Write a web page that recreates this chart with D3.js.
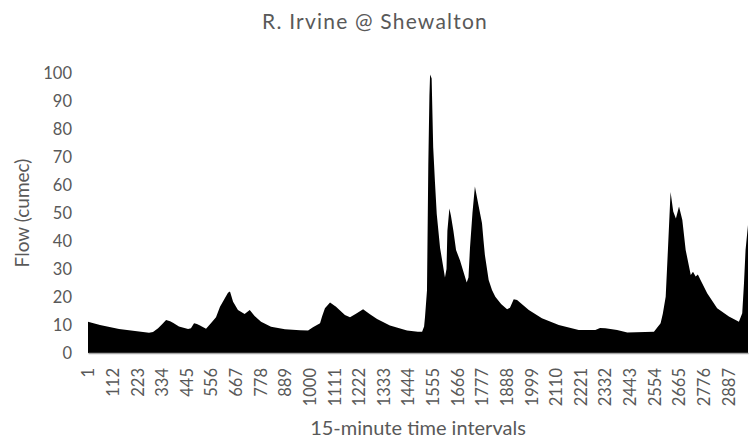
<!DOCTYPE html>
<html>
<head>
<meta charset="utf-8">
<script src="https://cdn.jsdelivr.net/npm/d3@7/dist/d3.min.js"></script>
<style>
  html, body { margin: 0; padding: 0; background: #fff; }
  svg { display: block; }
  text { font-family: Lato, "Open Sans", sans-serif; fill: #595959; }
</style>
</head>
<body>
<svg id="chart" width="749" height="443"></svg>
<script>
// River Irvine flow at Shewalton, one month of 15-minute readings (2976 intervals)
const intervalCount = 2976;

// interval number of each reading
const intervals = [
  1, 55, 141, 213, 276, 294, 317, 335, 353, 371, 384, 411, 452, 465, 479, 492, 506, 533,
  555, 578, 596, 614, 632, 641, 655, 677, 707, 730, 752, 781, 826, 889, 957, 993,
  1015, 1047, 1056, 1069, 1092, 1119, 1159, 1182, 1209, 1241, 1272, 1304, 1362, 1439,
  1488, 1507, 1516, 1520, 1529, 1535, 1540, 1543, 1550, 1557, 1565, 1573, 1588, 1595, 1610, 1617,
  1621, 1630, 1637, 1648, 1660, 1678, 1708, 1716, 1723, 1734, 1745, 1760, 1777, 1784, 1790, 1807,
  1822, 1837, 1863, 1890, 1903, 1920, 1935, 1988, 2047, 2123, 2213, 2288, 2309, 2333, 2386,
  2432, 2552, 2582, 2592, 2605, 2615, 2627, 2639, 2651, 2665, 2680, 2695, 2718, 2728,
  2740, 2750, 2762, 2792, 2837, 2890, 2935, 2950, 2958, 2965, 2976
];

// flow in cumec at each of those intervals
const flow = [
  11.2, 10.0, 8.6, 7.9, 7.2, 7.5, 8.8, 10.3, 11.8, 11.3, 10.8, 9.5, 8.6, 8.8, 10.6, 10.4, 9.8, 8.7,
  10.6, 12.8, 16.5, 19.0, 21.5, 22.0, 18.3, 15.4, 13.9, 15.4, 13.2, 11.2, 9.4, 8.5, 8.1, 8.0,
  9.2, 10.6, 13.0, 16.0, 18.0, 16.5, 13.6, 12.8, 14.0, 15.6, 13.8, 12.1, 9.8, 8.0,
  7.6, 7.6, 9.5, 12.8, 22.3, 67.5, 92.0, 99.5, 98.0, 73.5, 61.0, 49.6, 37.5, 34.2, 27.0, 30.0,
  43.7, 51.6, 49.0, 43.7, 36.8, 33.0, 25.2, 27.0, 37.8, 50.0, 59.5, 53.2, 46.3, 40.0, 35.0, 26.1,
  22.5, 20.1, 17.5, 15.6, 16.2, 19.2, 18.9, 15.4, 12.4, 10.0, 8.2, 8.2, 8.9, 8.8, 8.2,
  7.3, 7.6, 10.6, 14.0, 20.1, 36.8, 57.5, 50.5, 48.0, 52.3, 47.5, 36.8, 27.9, 29.0,
  27.3, 28.0, 26.1, 21.3, 16.0, 13.0, 11.2, 14.2, 25.0, 36.8, 45.7
];

// axis labels
const xTickValues = [1, 112, 223, 334, 445, 556, 667, 778, 889, 1000, 1111, 1222, 1333, 1444,
  1555, 1666, 1777, 1888, 1999, 2110, 2221, 2332, 2443, 2554, 2665, 2776, 2887];
const yTickValues = [0, 10, 20, 30, 40, 50, 60, 70, 80, 90, 100];

const titleText = "R. Irvine @ Shewalton";
const xTitle = "15-minute time intervals";
const yTitle = "Flow (cumec)";

const svg = d3.select("#chart");
const plot = { left: 88, right: 748, top: 73, bottom: 353 };

const x = d3.scaleLinear().domain([1, intervalCount]).range([plot.left, plot.right]);
const y = d3.scaleLinear().domain([0, 100]).range([plot.bottom, plot.top]);

const readings = intervals.map((d, i) => ({ t: d, v: flow[i] }));

// filled flow area
const area = d3.area()
  .x(d => x(d.t))
  .y0(y(0))
  .y1(d => y(d.v));

svg.append("path")
  .datum(readings)
  .attr("d", area)
  .attr("fill", "#000");

// category axis along the bottom
const xAxis = svg.append("g")
  .attr("transform", `translate(0,${plot.bottom})`)
  .call(d3.axisBottom(x).tickValues(xTickValues).tickSize(0).tickPadding(0).tickFormat(d3.format("d")));
xAxis.select(".domain").attr("stroke", "#a6a6a6").attr("stroke-width", 1.5);
xAxis.selectAll(".tick text")
  .attr("font-size", 16.5)
  .attr("fill", "#595959")
  .attr("text-anchor", "end")
  .attr("transform", "translate(0,15) rotate(-90)")
  .attr("x", 0)
  .attr("y", 0)
  .attr("dy", "0.35em");

// value axis labels, no axis line
const yAxis = svg.append("g")
  .attr("transform", `translate(${plot.left},0)`)
  .call(d3.axisLeft(y).tickValues(yTickValues).tickSize(0).tickPadding(16));
yAxis.select(".domain").remove();
yAxis.selectAll(".tick text")
  .attr("font-size", 16.5)
  .attr("fill", "#595959");

// titles
svg.append("text")
  .attr("x", 375).attr("y", 29)
  .attr("text-anchor", "middle")
  .attr("font-size", 21)
  .attr("letter-spacing", 1.2)
  .text(titleText);

svg.append("text")
  .attr("x", (plot.left + plot.right) / 2).attr("y", 435)
  .attr("text-anchor", "middle")
  .attr("font-size", 20)
  .text(xTitle);

svg.append("text")
  .attr("transform", `translate(29,${(plot.top + plot.bottom) / 2}) rotate(-90)`)
  .attr("text-anchor", "middle")
  .attr("font-size", 19)
  .text(yTitle);
</script>
</body>
</html>
